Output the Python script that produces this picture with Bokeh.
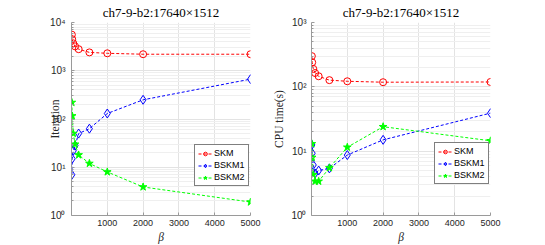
from bokeh.plotting import figure
from bokeh.layouts import row
from bokeh.models import FixedTicker, Legend, LegendItem, Range1d, CustomJSTickFormatter
from bokeh.embed import file_html
from bokeh.resources import INLINE

beta = [10, 20, 50, 100, 200, 500, 1000, 2000, 5000]
iter_skm = [5600, 4500, 3700, 3200, 2800, 2400, 2300, 2200, 2200]
iter_bskm1 = [7, 15, 22, 28, 50, 63, 130, 250, 670]
iter_bskm2 = [220, 116, 50, 30, 18, 12, 8, 3.9, 1.9]
cpu_skm = [300, 240, 190, 164, 146, 127, 122, 118, 119]
cpu_bskm1 = [12.5, 9.3, 6.1, 4.5, 5.0, 5.4, 8.7, 15, 39]
cpu_bskm2 = [13, 8, 4.3, 3.4, 3.4, 5.5, 11.5, 24, 14.5]
x_ticks = [1000, 2000, 3000, 4000, 5000]
iter_yticks = [1, 10, 100, 1000, 10000]
cpu_yticks = [1, 10, 100, 1000]
series_names = ["SKM", "BSKM1", "BSKM2"]
title_text = "ch7-9-b2:17640\u00d71512"

SERIF = "Liberation Serif"
SANS = "Liberation Sans"

log_fmt = CustomJSTickFormatter(code="""
const sup = ['\u2070','\u00b9','\u00b2','\u00b3','\u2074','\u2075'];
const e = Math.round(Math.log10(tick));
if (e < 0 || e > 5) { return ''; }
return '10' + sup[e];
""")


def build(ylabel, yticks, data, width, bl, br, leg_loc, lab_so, tick_so):
    minors = [m * d for d in yticks[:-1] for m in range(2, 10)]
    p = figure(width=width, height=245, y_axis_type="log",
               x_range=Range1d(0, 5000), y_range=Range1d(yticks[0], yticks[-1]),
               output_backend="svg", toolbar_location=None,
               min_border_left=bl, min_border_right=br,
               min_border_top=20, min_border_bottom=30)
    p.title.text = title_text
    p.title.align = "center"
    p.title.text_font = SERIF
    p.title.text_font_size = "13px"
    p.title.text_font_style = "normal"
    p.title.text_color = "#000000"
    p.title.standoff = 5
    p.outline_line_color = None

    p.xaxis.ticker = FixedTicker(ticks=x_ticks)
    p.yaxis.ticker = FixedTicker(ticks=yticks, minor_ticks=minors)
    p.ygrid.ticker = p.yaxis.ticker
    p.yaxis.formatter = log_fmt
    for ax in (p.xaxis, p.yaxis):
        ax.axis_line_color = "#9a9a9a"
        ax.major_tick_line_color = "#9a9a9a"
        ax.minor_tick_line_color = "#9a9a9a"
        ax.major_tick_in = 3
        ax.major_tick_out = 0
        ax.minor_tick_in = 2
        ax.minor_tick_out = 0
        ax.major_label_text_font = SANS
        ax.major_label_text_color = "#262626"
        ax.axis_label_text_font = SERIF
        ax.axis_label_text_font_size = "11.5px"
        ax.axis_label_text_color = "#262626"
    p.xaxis.major_label_text_font_size = "9px"
    p.yaxis.major_label_text_font_size = "10px"
    p.xaxis.axis_label = "\u03b2"
    p.xaxis.axis_label_text_font_style = "italic"
    p.xaxis.axis_label_standoff = 2
    p.xaxis.major_label_standoff = 4
    p.yaxis.axis_label = ylabel
    p.yaxis.axis_label_text_font_style = "normal"
    p.yaxis.axis_label_standoff = lab_so
    p.yaxis.major_label_standoff = tick_so

    p.xgrid.grid_line_color = "#e3e3e3"
    p.ygrid.grid_line_color = "#e3e3e3"
    p.ygrid.minor_grid_line_color = "#efefef"

    styles = [("#ff0000", "circle", 7, None), ("#0000ff", "diamond", 9, None),
              ("#00ff00", "star", 8, "#00ff00")]
    items = []
    for name, vals, (col, mk, sz, fill) in zip(series_names, data, styles):
        l = p.line(beta, vals, line_color=col, line_width=1, line_dash="3 2")
        s = p.scatter(beta, vals, marker=mk, size=sz, line_color=col,
                      fill_color=fill, line_width=1)
        items.append(LegendItem(label=name, renderers=[l, s]))
    leg = Legend(items=items, location=leg_loc)
    leg.border_line_color = "#000000"
    leg.border_line_width = 1
    leg.background_fill_color = "white"
    leg.background_fill_alpha = 1
    leg.label_text_font = SANS
    leg.label_text_font_size = "9px"
    leg.label_text_color = "#000000"
    leg.glyph_width = 14
    leg.glyph_height = 9
    leg.label_height = 9
    leg.spacing = 2
    leg.padding = 3
    leg.margin = 0
    leg.label_standoff = 2
    p.add_layout(leg)
    return p


p1 = build("Iteration", iter_yticks, [iter_skm, iter_bskm1, iter_bskm2], 262, 71, 12, (123, 29), -14, 6)
p2 = build("CPU time(s)", cpu_yticks, [cpu_skm, cpu_bskm1, cpu_bskm2], 280, 49, 52, (123, 31), 3, 5)
lay = row(p1, p2, spacing=0)
open("out.html", "w").write(file_html(lay, INLINE))
